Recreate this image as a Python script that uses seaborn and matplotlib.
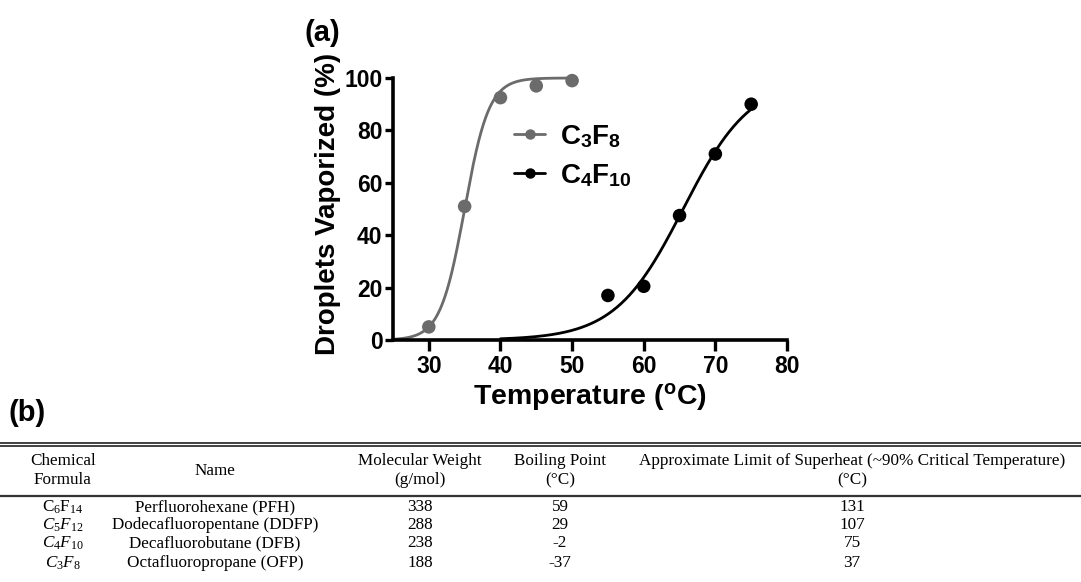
import numpy as np
import pandas as pd
import matplotlib
matplotlib.use("Agg")
import matplotlib.pyplot as plt
from matplotlib.lines import Line2D
import seaborn as sns

# ---------------- data ----------------
temp_c3f8 = [30, 35, 40, 45, 50]
vap_c3f8 = [5, 51, 92.5, 97, 99]
temp_c4f10 = [55, 60, 65, 70, 75]
vap_c4f10 = [17, 20.5, 47.5, 71, 90]

# sigmoidal fit parameters
fit_c3f8 = dict(ec50=35.0, scale=1.7, x0=25, x1=50)
fit_c4f10 = dict(ec50=65.5, scale=4.75, x0=40, x1=75)

xticks = [30, 40, 50, 60, 70, 80]
yticks = [0, 20, 40, 60, 80, 100]

table_headers = [["Chemical", "Formula"], ["Name"], ["Molecular Weight", "(g/mol)"],
                 ["Boiling Point", "(°C)"],
                 ["Approximate Limit of Superheat (~90% Critical Temperature)", "(°C)"]]
formulas = [r"$\mathrm{C_6F_{14}}$", r"$C_5F_{12}$", r"$C_4F_{10}$", r"$C_3F_8$"]
names = ["Perfluorohexane (PFH)", "Dodecafluoropentane (DDFP)", "Decafluorobutane (DFB)",
         "Octafluoropropane (OFP)"]
mol_weight = ["338", "288", "238", "188"]
boiling_pt = ["59", "29", "-2", "-37"]
superheat = ["131", "107", "75", "37"]

GRAY = "#6b6b6b"
BLACK = "#000000"

sns.set_theme(style="ticks")
plt.rcParams["font.family"] = ["Liberation Sans", "DejaVu Sans"]
plt.rcParams["mathtext.fontset"] = "custom"
plt.rcParams["mathtext.rm"] = "Liberation Serif"
plt.rcParams["mathtext.it"] = "Liberation Serif:italic"
plt.rcParams["mathtext.bf"] = "Liberation Sans:bold"
for k in ["text.color", "axes.labelcolor", "xtick.color", "ytick.color", "axes.edgecolor"]:
    plt.rcParams[k] = "black"

W, H = 1081, 582
fig = plt.figure(figsize=(W / 100, H / 100), dpi=100)
fig.patch.set_facecolor("white")

ax = fig.add_axes([393 / W, (H - 340) / H, (787 - 393) / W, (340 - 78) / H])


def logistic(x, ec50, scale):
    return 100.0 / (1.0 + np.exp(-(x - ec50) / scale))


curves = []
for name, fp in [("C3F8", fit_c3f8), ("C4F10", fit_c4f10)]:
    xs = np.linspace(fp["x0"], fp["x1"], 300)
    curves.append(pd.DataFrame({"x": xs, "y": logistic(xs, fp["ec50"], fp["scale"]), "s": name}))
curve_df = pd.concat(curves)
pts_df = pd.concat([
    pd.DataFrame({"x": temp_c3f8, "y": vap_c3f8, "s": "C3F8"}),
    pd.DataFrame({"x": temp_c4f10, "y": vap_c4f10, "s": "C4F10"}),
])
pal = {"C3F8": GRAY, "C4F10": BLACK}

sns.lineplot(data=curve_df, x="x", y="y", hue="s", palette=pal, linewidth=2.0,
             legend=False, ax=ax, clip_on=False)
sns.scatterplot(data=pts_df, x="x", y="y", hue="s", palette=pal, s=95, edgecolor="none",
                legend=False, ax=ax, clip_on=False, zorder=5)

ax.set_xlim(25, 80)
ax.set_ylim(0, 100)
ax.set_xticks(xticks)
ax.set_yticks(yticks)
for lab in ax.get_xticklabels() + ax.get_yticklabels():
    lab.set_fontweight("bold")
ax.tick_params(axis="both", labelsize=16.5, width=2.4, color="black", labelcolor="black")
ax.tick_params(axis="x", length=8, pad=3)
ax.tick_params(axis="y", length=6, pad=1.5)
sns.despine(ax=ax)
for sp in ["left", "bottom"]:
    ax.spines[sp].set_linewidth(2.6)
    ax.spines[sp].set_color("black")
ax.set_xlabel("Temperature ($\\mathbf{^{o}}$C)", fontsize=20.5, fontweight="bold", labelpad=2)
ax.set_ylabel("Droplets Vaporized (%)", fontsize=20, fontweight="bold", labelpad=2)
ax.yaxis.set_label_coords(-0.132, 0.52)

handles = [Line2D([], [], color=GRAY, marker="o", markersize=6.5, linewidth=2),
           Line2D([], [], color=BLACK, marker="o", markersize=6.5, linewidth=2)]
ax.legend(handles, [r"C$_\mathbf{3}$F$_\mathbf{8}$", r"C$_\mathbf{4}$F$_\mathbf{10}$"],
          loc="upper left", bbox_to_anchor=(0.28, 0.87), frameon=False,
          prop={"weight": "bold", "size": 20}, handlelength=1.1, labelspacing=0.42,
          handletextpad=0.55, borderaxespad=0)

fig.text(305 / W, 1 - 33 / H, "(a)", fontsize=21, fontweight="bold", va="center", ha="left")
fig.text(9 / W, 1 - 413 / H, "(b)", fontsize=21, fontweight="bold", va="center", ha="left")

# ---------------- table ----------------
def fy(py):
    return 1 - py / H


for py, lw in [(442.5, 1.3), (445.5, 1.3), (495.5, 1.6)]:
    fig.add_artist(Line2D([0, 1], [fy(py), fy(py)], color="#333333", linewidth=lw,
                          transform=fig.transFigure))

col_x = [63, 215, 420, 560, 852]
serif = ["Liberation Serif", "DejaVu Serif"]
tfs = 12.3
for cx, hdr in zip(col_x, table_headers):
    if len(hdr) == 2:
        fig.text(cx / W, fy(461), hdr[0], ha="center", va="center", fontsize=tfs, family=serif)
        fig.text(cx / W, fy(480), hdr[1], ha="center", va="center", fontsize=tfs, family=serif)
    else:
        fig.text(cx / W, fy(471), hdr[0], ha="center", va="center", fontsize=tfs, family=serif)

row_y = [507, 525, 543, 563]
for i, ry in enumerate(row_y):
    vals = [formulas[i], names[i], mol_weight[i], boiling_pt[i], superheat[i]]
    for cx, v in zip(col_x, vals):
        fig.text(cx / W, fy(ry), v, ha="center", va="center", fontsize=tfs, family=serif)

fig.savefig("out.png", dpi=100, facecolor="white")
